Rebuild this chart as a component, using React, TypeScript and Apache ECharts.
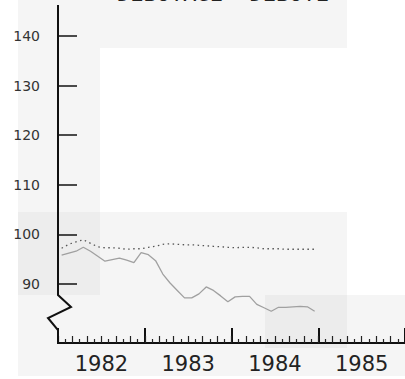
import React, { useEffect, useRef } from "react";
import * as echarts from "echarts";

const yearLabels = ["1982", "1983", "1984", "1985"];
const yTickValues = [90, 100, 110, 120, 130, 140];
// monthly values, Jan 1982 .. Dec 1984
const solidSeries = [
  95.8, 96.2, 96.6, 97.4, 96.6, 95.6, 94.6, 94.9, 95.2, 94.8, 94.3, 96.3,
  95.9, 94.7, 92.0, 90.2, 88.7, 87.2, 87.2, 88.0, 89.4, 88.7, 87.6, 86.4,
  87.4, 87.5, 87.5, 85.9, 85.2, 84.5, 85.3, 85.3, 85.4, 85.5, 85.4, 84.5,
];
const dottedSeries = [
  97.2, 98.0, 98.5, 98.9, 98.2, 97.5, 97.3, 97.3, 97.2, 97.0, 97.1, 97.1,
  97.4, 97.6, 98.0, 98.1, 98.0, 97.9, 97.9, 97.8, 97.7, 97.6, 97.5, 97.4,
  97.3, 97.4, 97.4, 97.3, 97.1, 97.1, 97.1, 97.0, 97.0, 97.0, 97.0, 97.0,
];
const titleText = "DEBUTAGE  DEBUTE";

export default function App() {
  const ref = useRef<HTMLDivElement>(null);
  useEffect(() => {
    if (!ref.current) return;
    const chart = echarts.init(ref.current, undefined, { renderer: "svg" });
    const toPairs = (arr: number[]) => arr.map((v, i) => [i + 0.5, v]);
    chart.setOption({
      animation: false,
      backgroundColor: "#ffffff",
      grid: { left: 58, top: 5, right: -3, bottom: 36 },
      graphic: [
        { type: "rect", silent: true, z: -10, shape: { x: 18, y: 0, width: 387, height: 376 }, style: { fill: "#f5f5f5" } },
        { type: "rect", silent: true, z: -9, shape: { x: 100, y: 48, width: 305, height: 164 }, style: { fill: "#ffffff" } },
        { type: "rect", silent: true, z: -9, shape: { x: 347, y: 0, width: 58, height: 48 }, style: { fill: "#ffffff" } },
        { type: "rect", silent: true, z: -9, shape: { x: 347, y: 212, width: 58, height: 83 }, style: { fill: "#ffffff" } },
        { type: "rect", silent: true, z: -9, shape: { x: 18, y: 212, width: 82, height: 83 }, style: { fill: "#ededed" } },
        { type: "rect", silent: true, z: -9, shape: { x: 265, y: 295, width: 82, height: 53 }, style: { fill: "#ececec" } },
        {
          type: "polyline",
          silent: true,
          z: 10,
          shape: { points: [[58, 5], [58, 295], [71, 307], [48, 318], [58, 330], [58, 344]] },
          style: { stroke: "#111", lineWidth: 2, fill: "none" },
        },
        {
          type: "text",
          silent: true,
          x: 117,
          y: -18,
          style: { text: titleText, font: "22px 'DejaVu Sans Mono'", fill: "#222" },
        },
      ],
      xAxis: [
        {
          type: "category",
          data: yearLabels,
          boundaryGap: true,
          position: "bottom",
          axisLine: { show: true, lineStyle: { color: "#111", width: 2 } },
          axisTick: { show: true, inside: true, length: 15, interval: 0, lineStyle: { color: "#111", width: 2 } },
          axisLabel: { show: true, fontSize: 21, color: "#222", fontFamily: "DejaVu Sans", margin: 10 },
          splitLine: { show: false },
        },
        {
          type: "value",
          min: 0,
          max: 48,
          interval: 2,
          position: "bottom",
          axisLine: { show: false },
          axisTick: { show: true, inside: true, length: 7, lineStyle: { color: "#222", width: 1.2 } },
          minorTick: { show: true, splitNumber: 2, length: 4, lineStyle: { color: "#222", width: 1.2 } },
          axisLabel: { show: false },
          splitLine: { show: false },
        },
      ],
      yAxis: {
        type: "value",
        min: 78.1,
        max: 146.25,
        axisLine: { show: false },
        splitLine: { show: false },
        axisTick: {
          show: true,
          inside: true,
          length: 19,
          customValues: yTickValues,
          lineStyle: { color: "#111", width: 1.5 },
        },
        axisLabel: {
          show: true,
          customValues: yTickValues,
          fontSize: 14,
          color: "#333",
          fontFamily: "DejaVu Sans",
          margin: 18,
          padding: [0, 0, 9, 0],
        },
      },
      series: [
        {
          type: "line",
          xAxisIndex: 1,
          data: toPairs(solidSeries),
          symbol: "none",
          lineStyle: { color: "#a0a0a0", width: 1.3 },
        },
        {
          type: "line",
          xAxisIndex: 1,
          data: toPairs(dottedSeries),
          symbol: "none",
          lineStyle: { color: "#555", width: 1.3, type: [1.5, 3.5] },
        },
      ],
    });
    return () => chart.dispose();
  }, []);
  return (
    <div
      ref={ref}
      style={{ position: "fixed", left: 0, top: 0, width: 405, height: 379 }}
    />
  );
}
